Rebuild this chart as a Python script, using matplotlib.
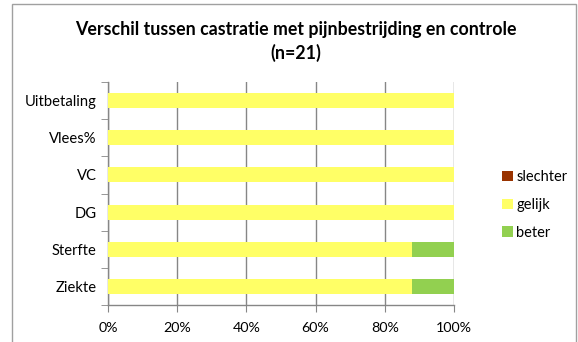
import matplotlib
matplotlib.use("Agg")
import matplotlib.pyplot as plt
from matplotlib.patches import Rectangle
import numpy as np

plt.rcParams['font.family'] = ['Lato', 'DejaVu Sans']

categories = ["Ziekte", "Sterfte", "DG", "VC", "Vlees%", "Uitbetaling"]
slechter = [0, 0, 0, 0, 0, 0]
gelijk = [88, 88, 100, 100, 100, 100]
beter = [12, 12, 0, 0, 0, 0]
x_ticks = [0, 20, 40, 60, 80, 100]
x_labels = ["0%", "20%", "40%", "60%", "80%", "100%"]

W, H = 578, 342
fig = plt.figure(figsize=(W / 100, H / 100), dpi=100)

# chart frame
fig.patches.append(Rectangle((12 / W, -0.05), (576 - 12) / W, 1.05 - 4 / H,
                             transform=fig.transFigure, fill=False,
                             edgecolor="#a0a0a0", linewidth=1.0))

left, right = 108 / W, 454 / W
top, bottom = 1 - 82 / H, 1 - 305 / H
ax = fig.add_axes([left, bottom, right - left, top - bottom])

y = np.arange(len(categories))
s = np.array(slechter)
g = np.array(gelijk)
b = np.array(beter)
ax.barh(y, s, height=0.4, color="#993300", label="slechter", zorder=3)
ax.barh(y, g, left=s, height=0.4, color="#FFFF66", label="gelijk", zorder=3)
ax.barh(y, b, left=s + g, height=0.4, color="#92D050", label="beter", zorder=3)

ax.set_xlim(0, 100)
ax.set_ylim(-0.5, len(categories) - 0.5)
ax.set_xticks(x_ticks)
ax.set_xticklabels(x_labels)
ax.set_yticks(y)
ax.set_yticklabels(categories)
ax.set_yticks(np.arange(-0.5, len(categories)), minor=True)

ax.xaxis.grid(True, color="#868686", linewidth=1.0, zorder=0)
ax.set_axisbelow(True)

for sp in ["top", "right"]:
    ax.spines[sp].set_visible(False)
for sp in ["left", "bottom"]:
    ax.spines[sp].set_color("#868686")
    ax.spines[sp].set_linewidth(1.0)

ax.tick_params(axis="y", which="major", length=0, pad=8, labelsize=10.6, labelcolor="#000000")
ax.tick_params(axis="y", which="minor", length=5, color="#868686", direction="out")
ax.tick_params(axis="x", which="major", length=5, color="#868686", direction="out",
               pad=7, labelsize=10.3)

fig.text(296 / W, 1 - 30 / H, "Verschil tussen castratie met pijnbestrijding en controle",
         ha="center", va="center", fontsize=12.8, fontweight="bold")
fig.text(296 / W, 1 - 53 / H, "(n=21)", ha="center", va="center",
         fontsize=12.8, fontweight="bold")

handles, labels = ax.get_legend_handles_labels()
leg = fig.legend(handles, labels, loc="center left", bbox_to_anchor=(496 / W, 1 - 205 / H),
                 frameon=False, fontsize=10.5, handlelength=0.75, handleheight=0.75,
                 handletextpad=0.25, labelspacing=0.95, borderaxespad=0)

fig.savefig("out.png", dpi=100)
